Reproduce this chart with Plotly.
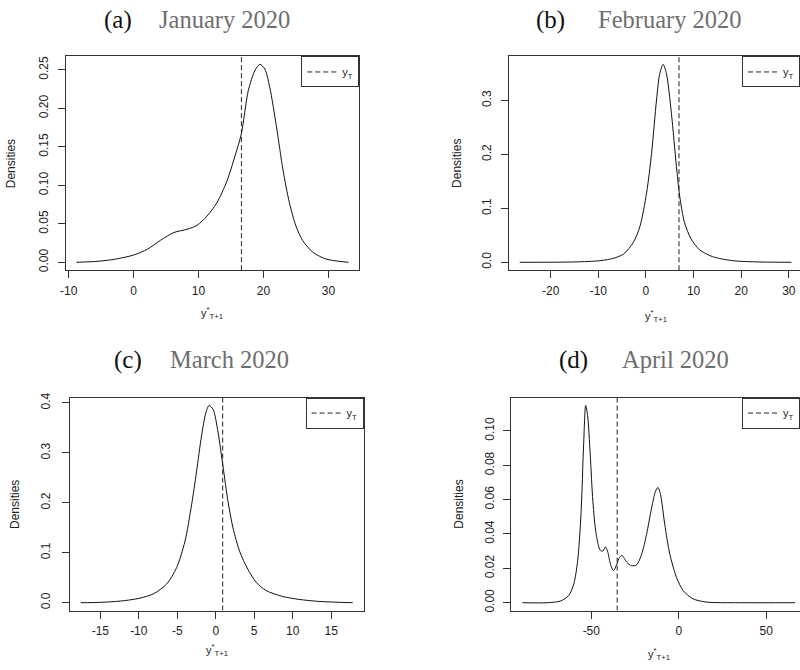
import plotly.graph_objects as go

# ---------------- data ----------------
jan_x = [-8.8, -5.5, -2.95, 0.0, 2.14, 4.17, 6.2, 8.24, 9.77, 11.3, 12.8, 14.35, 15.9, 16.6,
         17.66, 18.68, 19.44, 20.2, 20.97, 22.0, 23.0, 24.0, 25.0, 26.05, 27.6, 29.6, 31.65, 33.08]
jan_y = [0.0, 0.0013, 0.0039, 0.0094, 0.017, 0.0287, 0.0386, 0.0429, 0.048, 0.060, 0.077, 0.105,
         0.146, 0.167, 0.223, 0.249, 0.257, 0.251, 0.227, 0.176, 0.120, 0.077, 0.047, 0.028, 0.013,
         0.0043, 0.0013, 0.0]
jan_yT = 16.6

feb_x = [-26.5, -15.1, -9.6, -6.8, -4.7, -2.64, -1.25, 0.14, 1.18, 2.22, 2.9, 3.6, 4.3, 5.35,
         6.4, 7.08, 8.1, 9.5, 11.25, 14.0, 18.2, 23.75, 30.55]
feb_y = [0.0, 0.0006, 0.003, 0.0074, 0.0153, 0.037, 0.067, 0.129, 0.202, 0.301, 0.350, 0.367,
         0.350, 0.276, 0.178, 0.123, 0.0736, 0.043, 0.0233, 0.0104, 0.003, 0.0006, 0.0]
feb_yT = 6.94

mar_x = [-17.55, -15.0, -12.4, -10.0, -8.1, -6.37, -5.08, -4.0, -3.14, -2.5, -1.85, -1.29, -0.86,
         -0.34, 0.3, 0.95, 1.6, 2.24, 3.1, 4.17, 5.25, 6.54, 8.7, 10.84, 13.4, 17.8]
mar_y = [0.0, 0.0007, 0.0033, 0.0086, 0.0178, 0.0376, 0.0705, 0.123, 0.196, 0.262, 0.334, 0.380,
         0.395, 0.387, 0.341, 0.272, 0.202, 0.150, 0.103, 0.067, 0.041, 0.0244, 0.0125, 0.0066,
         0.0026, 0.0]
mar_yT = 0.9

apr_x = [-89.4, -75.2, -67.6, -62.9, -60.0, -57.8, -55.9, -54.4, -53.2, -52.1, -50.6, -49.1,
         -47.2, -44.9, -43.4, -41.9, -40.7, -38.8, -37.3, -35.4, -33.9, -32.4, -29.7, -26.9,
         -24.05, -21.2, -18.4, -15.5, -13.3, -11.9, -10.4, -8.0, -5.1, -1.3, 2.5, 8.1, 15.7,
         34.7, 66.5]
apr_y = [0.0, 0.0, 0.001, 0.0042, 0.011, 0.0244, 0.0513, 0.0917, 0.1148, 0.109, 0.086, 0.059,
         0.0398, 0.0306, 0.030, 0.0325, 0.030, 0.0215, 0.0187, 0.0225, 0.0263, 0.0275, 0.0235,
         0.0215, 0.0221, 0.0283, 0.0398, 0.0552, 0.0648, 0.0671, 0.0629, 0.0456, 0.0283,
         0.0148, 0.0071, 0.0023, 0.0004, 0.0, 0.0]
apr_yT = -35.2

panel_letters = ["(a)", "(b)", "(c)", "(d)"]
panel_months = ["January 2020", "February 2020", "March 2020", "April 2020"]

jan_xticks = [-10, 0, 10, 20, 30]
feb_xticks = [-20, -10, 0, 10, 20, 30]
mar_xticks = [-15, -10, -5, 0, 5, 10, 15]
apr_xticks = [-50, 0, 50]
jan_yticks = [0.00, 0.05, 0.10, 0.15, 0.20, 0.25]
feb_yticks = [0.0, 0.1, 0.2, 0.3]
mar_yticks = [0.0, 0.1, 0.2, 0.3, 0.4]
apr_yticks = [0.00, 0.02, 0.04, 0.06, 0.08, 0.10, 0.12]

# ---------------- layout geometry (pixels) ----------------
W, H = 800, 670
panels = [
    dict(x=jan_x, y=jan_y, yT=jan_yT, xt=jan_xticks, yt=jan_yticks, yfmt=".2f",
         box=(60, 356, 52, 268), title=(98, 153, 15), ylab=5, xlab_dy=43, ytl=5),
    dict(x=feb_x, y=feb_y, yT=feb_yT, xt=feb_xticks, yt=feb_yticks, yfmt=".1f",
         box=(506.7, 802.3, 52, 268), title=(533, 595, 15), ylab=455, xlab_dy=46, ytl=5),
    dict(x=mar_x, y=mar_y, yT=mar_yT, xt=mar_xticks, yt=mar_yticks, yfmt=".1f",
         box=(64.3, 360.3, 396.7, 612), title=(108, 164, 358.5), ylab=9, xlab_dy=40, ytl=7),
    dict(x=apr_x, y=apr_y, yT=apr_yT, xt=apr_xticks, yt=apr_yticks, yfmt=".2f",
         box=(509.3, 806, 396.7, 612), title=(556, 619.7, 358.5), ylab=457, xlab_dy=44, ytl=5),
]

SANS = "Liberation Sans, Arial, sans-serif"
SERIF = "Liberation Serif, Times New Roman, serif"
AXC = "#333333"

fig = go.Figure()
annotations = []
layout = dict(width=W, height=H, margin=dict(l=0, r=0, t=0, b=0),
              paper_bgcolor="white", plot_bgcolor="white", showlegend=True)

for i, p in enumerate(panels):
    n = "" if i == 0 else str(i + 1)
    x0, x1, y0, y1 = p["box"]
    xlo, xhi = min(p["x"]), max(p["x"])
    ylo, yhi = min(p["y"]), max(p["y"])
    px = 0.04 * (xhi - xlo)
    py = 0.04 * (yhi - ylo)
    rxlo, rxhi = xlo - px, xhi + px
    rylo, ryhi = ylo - py, yhi + py
    # visible part only (panels on the right are cut by the page edge)
    vis_x1 = min(x1, W)
    vis_hi = rxlo + (vis_x1 - x0) / (x1 - x0) * (rxhi - rxlo)
    cut = x1 > W

    dom_x = [x0 / W, vis_x1 / W]
    dom_y = [1 - y1 / H, 1 - y0 / H]

    layout["xaxis" + n] = dict(
        domain=dom_x, range=[rxlo, vis_hi], anchor="y" + n,
        tickvals=p["xt"], ticktext=[str(v) for v in p["xt"]],
        showline=True, mirror=True, linecolor=AXC, linewidth=1,
        ticks="outside", ticklen=7, tickcolor=AXC, tickwidth=1,
        tickfont=dict(family=SANS, size=12, color="#222"),
        ticklabelstandoff=2, showgrid=False, zeroline=False, fixedrange=True)
    layout["yaxis" + n] = dict(
        domain=dom_y, range=[rylo, ryhi], anchor="x" + n,
        tickvals=p["yt"], ticktext=[format(v, p["yfmt"]) for v in p["yt"]],
        tickangle=-90,
        showline=True, mirror=(not cut), linecolor=AXC, linewidth=1,
        ticks="outside", ticklen=7, tickcolor=AXC, tickwidth=1,
        tickfont=dict(family=SANS, size=12, color="#222"),
        ticklabelstandoff=p["ytl"], showgrid=False, zeroline=False, fixedrange=True)

    # density curve
    fig.add_trace(go.Scatter(x=p["x"], y=p["y"], mode="lines", xaxis="x" + n, yaxis="y" + n,
                             line=dict(color="#111111", width=1, shape="spline", smoothing=0.8),
                             showlegend=False, hoverinfo="skip"))
    # observed value y_T (dashed vertical line across the plot region)
    lg = "legend" + n
    fig.add_trace(go.Scatter(x=[p["yT"], p["yT"]], y=[rylo, ryhi], mode="lines",
                             xaxis="x" + n, yaxis="y" + n, name="y<sub>T</sub>",
                             line=dict(color="#222222", width=1, dash="5px,3px"),
                             legend=lg, showlegend=True, hoverinfo="skip"))
    layout[lg] = dict(x=vis_x1 / W if not cut else 1.0, xanchor="right",
                      y=dom_y[1], yanchor="top",
                      bordercolor=AXC, borderwidth=1, bgcolor="white",
                      font=dict(family=SANS, size=11, color="#222"),
                      itemwidth=30, tracegroupgap=0)

    # panel titles
    tx_letter, tx_month, ty = p["title"]
    annotations.append(dict(text=panel_letters[i], x=tx_letter / W, y=1 - ty / H,
                            xref="paper", yref="paper", xanchor="left", yanchor="middle",
                            showarrow=False, borderpad=0,
                            font=dict(family=SERIF, size=25, color="#111")))
    annotations.append(dict(text=panel_months[i], x=tx_month / W, y=1 - ty / H,
                            xref="paper", yref="paper", xanchor="left", yanchor="middle",
                            showarrow=False, borderpad=0,
                            font=dict(family=SERIF, size=24.5, color="#6e6e6e")))
    # y-axis label
    annotations.append(dict(text="Densities", x=p["ylab"] / W, y=1 - (y0 + y1) / 2 / H,
                            xref="paper", yref="paper", xanchor="center", yanchor="middle",
                            textangle=-90, showarrow=False,
                            font=dict(family=SANS, size=12, color="#222")))
    # x-axis label  y*_{T+1}
    cx = (x0 + min(x1, W + 6)) / 2
    cy = y1 + p["xlab_dy"]
    annotations.append(dict(text="y<sup>*</sup><sub>T+1</sub>", x=cx / W, y=1 - cy / H,
                            xref="paper", yref="paper", xanchor="center", yanchor="middle",
                            showarrow=False, font=dict(family=SANS, size=11, color="#222")))

layout["annotations"] = annotations
fig.update_layout(**layout)
fig.write_html("out.html", config={"displayModeBar": False},
               post_script="document.body.style.margin='0';document.body.style.overflow='hidden';")
